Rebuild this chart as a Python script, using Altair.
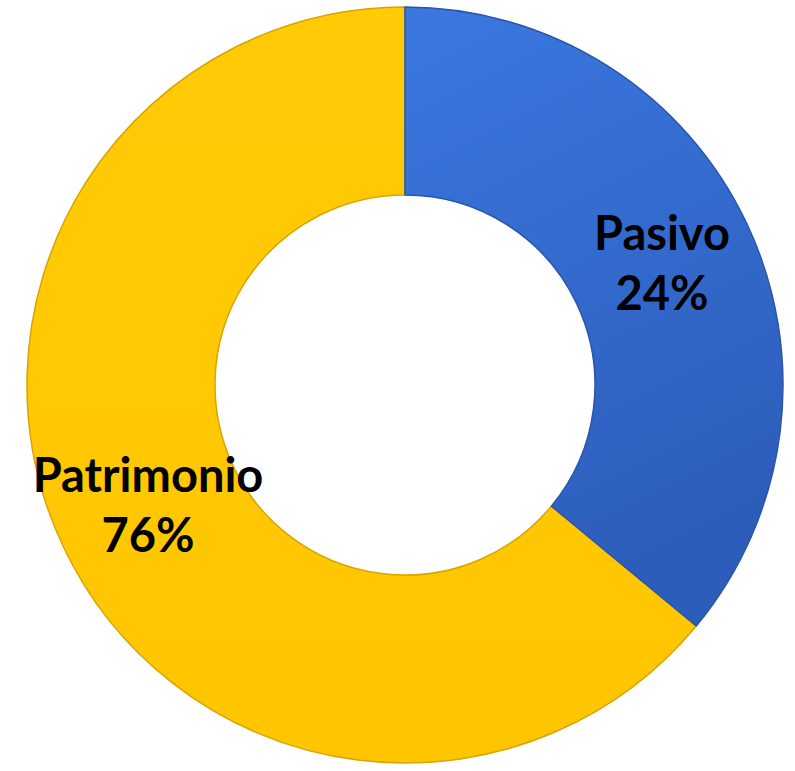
import altair as alt
import pandas as pd

categories = ["Pasivo", "Patrimonio"]
# arc shares as drawn in the picture (degrees of the ring / 3.6)
shares = [36, 64]
label_texts = [["Pasivo", "24%"], ["Patrimonio", "76%"]]

df = pd.DataFrame({
    "cat": categories,
    "share": shares,
    "label": label_texts,
    "ord": [0, 1],
})

CX, CY = 405, 385
R_OUT, R_IN = 378, 190

base = alt.Chart(df).encode(
    theta=alt.Theta("share:Q", stack=True),
    order=alt.Order("ord:Q"),
)

blue_grad = alt.Gradient(
    gradient="linear",
    stops=[alt.GradientStop(color="#3A78E0", offset=0),
           alt.GradientStop(color="#2D5DBB", offset=1)],
    x1=0, x2=0.3, y1=0, y2=1,
)
yellow_grad = alt.Gradient(
    gradient="linear",
    stops=[alt.GradientStop(color="#FFCB05", offset=0),
           alt.GradientStop(color="#FFC600", offset=1)],
    x1=0, x2=0, y1=0, y2=1,
)

def arc_layer(cat, fill, stroke):
    return base.mark_arc(
        radius=R_OUT, radius2=R_IN, fill=fill, stroke=stroke, strokeWidth=1.5,
    ).encode(
        x=alt.value(CX), y=alt.value(CY),
        opacity=alt.condition(alt.datum.cat == cat, alt.value(1), alt.value(0)),
    )

arcs_blue = arc_layer("Pasivo", blue_grad, "#2A56A8")
arcs_yellow = arc_layer("Patrimonio", yellow_grad, "#D9A400")

labels = base.mark_text(
    radius=284, font="Lato", fontWeight="bold", fontSize=47,
    color="#000000", lineHeight=60, align="center", baseline="middle", dy=-28,
).encode(
    x=alt.value(CX), y=alt.value(CY),
    text="label",
)

chart = alt.layer(arcs_yellow, arcs_blue, labels).properties(
    width=795, height=771, padding=0, background="white",
    autosize=alt.AutoSizeParams(type="none"),
).configure_view(stroke=None)

chart.save("out.html", embed_options={"renderer": "svg", "actions": False})
